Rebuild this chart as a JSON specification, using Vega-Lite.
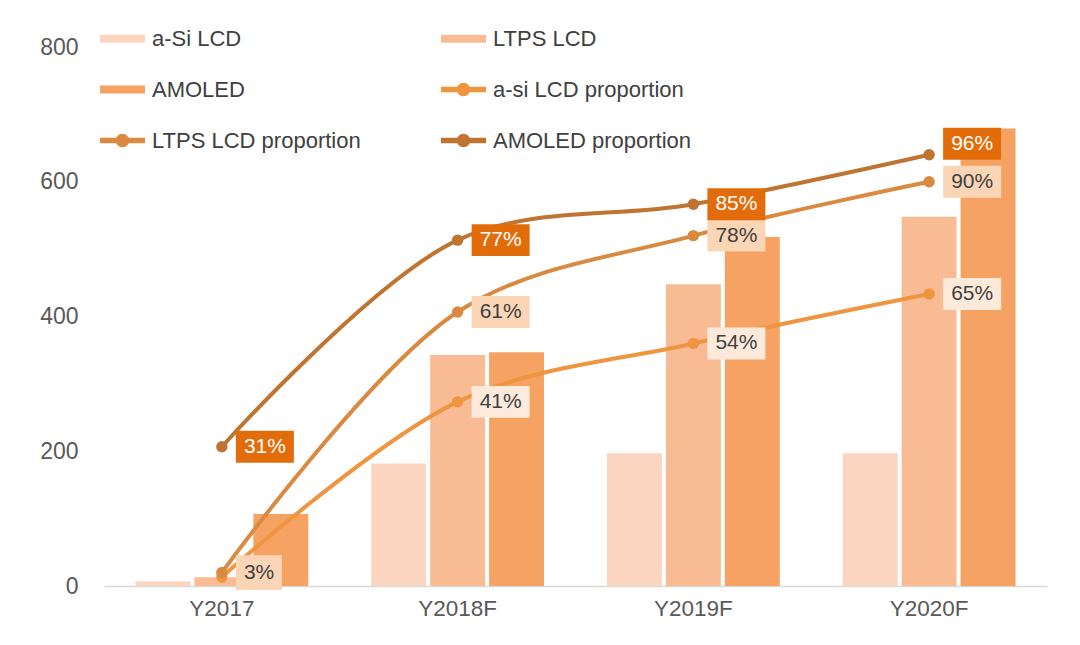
{
  "$schema": "https://vega.github.io/schema/vega-lite/v6.json",
  "width": 943,
  "height": 539,
  "autosize": {"type": "none"},
  "padding": {"left": 104, "top": 47, "right": 33, "bottom": 59},
  "background": "#ffffff",
  "config": {
    "view": {"stroke": null},
    "font": "Liberation Sans",
    "axis": {"labelFont": "Liberation Sans"},
    "legend": {"labelFont": "Liberation Sans"},
    "text": {"font": "Liberation Sans"}
  },
  "datasets": {
    "volume": [
      {"year": "Y2017", "series": "a-Si LCD", "value": 7},
      {"year": "Y2017", "series": "LTPS LCD", "value": 13},
      {"year": "Y2017", "series": "AMOLED", "value": 107},
      {"year": "Y2018F", "series": "a-Si LCD", "value": 182},
      {"year": "Y2018F", "series": "LTPS LCD", "value": 343},
      {"year": "Y2018F", "series": "AMOLED", "value": 347},
      {"year": "Y2019F", "series": "a-Si LCD", "value": 197},
      {"year": "Y2019F", "series": "LTPS LCD", "value": 448},
      {"year": "Y2019F", "series": "AMOLED", "value": 518},
      {"year": "Y2020F", "series": "a-Si LCD", "value": 197},
      {"year": "Y2020F", "series": "LTPS LCD", "value": 548},
      {"year": "Y2020F", "series": "AMOLED", "value": 679}
    ],
    "share": [
      {"year": "Y2017", "series": "a-si LCD proportion", "prop": 0.02},
      {"year": "Y2018F", "series": "a-si LCD proportion", "prop": 0.41},
      {"year": "Y2019F", "series": "a-si LCD proportion", "prop": 0.54},
      {"year": "Y2020F", "series": "a-si LCD proportion", "prop": 0.65},
      {"year": "Y2017", "series": "LTPS LCD proportion", "prop": 0.03},
      {"year": "Y2018F", "series": "LTPS LCD proportion", "prop": 0.61},
      {"year": "Y2019F", "series": "LTPS LCD proportion", "prop": 0.78},
      {"year": "Y2020F", "series": "LTPS LCD proportion", "prop": 0.90},
      {"year": "Y2017", "series": "AMOLED proportion", "prop": 0.31},
      {"year": "Y2018F", "series": "AMOLED proportion", "prop": 0.77},
      {"year": "Y2019F", "series": "AMOLED proportion", "prop": 0.85},
      {"year": "Y2020F", "series": "AMOLED proportion", "prop": 0.96}
    ]
  },
  "layer": [
    {
      "data": {"name": "volume"},
      "mark": {"type": "bar"},
      "encoding": {
        "x": {
          "field": "year", "type": "nominal",
          "sort": ["Y2017", "Y2018F", "Y2019F", "Y2020F"],
          "scale": {"paddingInner": 0, "paddingOuter": 0},
          "axis": {"title": null, "labelAngle": 0, "labelFontSize": 22.5, "labelColor": "#595959", "ticks": false, "domainColor": "#D9D9D9", "domainWidth": 1.5, "labelPadding": 11}
        },
        "xOffset": {
          "field": "series", "type": "nominal",
          "sort": ["a-Si LCD", "LTPS LCD", "AMOLED"],
          "scale": {"paddingInner": 0.068, "paddingOuter": 0.534}
        },
        "y": {
          "field": "value", "type": "quantitative",
          "scale": {"domain": [0, 800], "nice": false},
          "axis": {"title": null, "values": [0, 200, 400, 600, 800], "grid": false, "domain": false, "ticks": false, "labelFontSize": 23, "labelColor": "#595959", "labelPadding": 26}
        },
        "color": {
          "field": "series", "type": "nominal",
          "scale": {
            "domain": ["a-Si LCD", "LTPS LCD", "AMOLED", "a-si LCD proportion", "LTPS LCD proportion", "AMOLED proportion"],
            "range": ["#FBD5BF", "#F9BB94", "#F5A263", "#EF9540", "#DA8A40", "#BF7432"]
          },
          "legend": {
            "title": null,
            "orient": "none",
            "direction": "horizontal",
            "legendX": -4,
            "legendY": -31,
            "columns": 2,
            "columnPadding": 80,
            "rowPadding": 17,
            "padding": 0,
            "symbolSize": 2025,
            "symbolStrokeWidth": 0,
            "symbolType": "M-1,-0.18H1V0.18H-1Z",
            "labelOffset": 7,
            "labelFontSize": 22,
            "labelColor": "#404040",
            "labelLimit": 400,
            "encode": {
              "symbols": {
                "update": {
                  "shape": {"signal": "indexof(['a-Si LCD','LTPS LCD','AMOLED'], datum.value) >= 0 ? 'M-1,-0.18H1V0.18H-1Z' : 'M-1,-0.12H1V0.12H-1Z M0.3,0 A0.3,0.3 0 1 1 -0.3,0 A0.3,0.3 0 1 1 0.3,0 Z'"},
                  "fill": {"scale": "color", "field": "value"},
                  "stroke": {"value": "transparent"},
                  "strokeWidth": {"value": 0},
                  "opacity": {"value": 1}
                }
              }
            }
          }
        }
      }
    },
    {
      "data": {"name": "share"},
      "encoding": {
        "x": {"field": "year", "type": "nominal", "sort": ["Y2017", "Y2018F", "Y2019F", "Y2020F"]},
        "y": {"field": "prop", "type": "quantitative", "scale": {"domain": [0, 1.2], "nice": false}, "axis": null}
      },
      "layer": [
        {
          "mark": {"type": "line", "interpolate": "catmull-rom", "strokeWidth": 4, "point": {"filled": true, "size": 130}},
          "encoding": {"color": {"field": "series", "type": "nominal"}}
        },
        {
          "transform": [{"filter": "!(datum.series == 'a-si LCD proportion' && datum.year == 'Y2017') && !(datum.series == 'AMOLED proportion' && datum.year == 'Y2020F')"}],
          "layer": [
            {
              "mark": {"type": "point", "filled": true, "opacity": 1, "strokeWidth": 0, "size": 3364, "xOffset": 43},
              "encoding": {
                "shape": {"condition": {"test": "datum.prop < 0.1", "value": "M-1,-0.6H0.59V0.6H-1Z"}, "value": "M-1,-0.55H1V0.55H-1Z"},
                "color": {"condition": [{"test": "datum.series == 'AMOLED proportion'", "value": "#E36C0A"}, {"test": "datum.series == 'LTPS LCD proportion'", "value": "#FAD6B6"}], "value": "#FDEADA"}
              }
            },
            {
              "mark": {"type": "text", "xOffset": 22, "fontSize": 21, "baseline": "middle", "align": "left"},
              "encoding": {
                "text": {"field": "prop", "type": "quantitative", "format": ".0%"},
                "color": {"condition": {"test": "datum.series == 'AMOLED proportion'", "value": "#FFFFFF"}, "value": "#404040"}
              }
            }
          ]
        },
        {
          "transform": [{"filter": "datum.series == 'AMOLED proportion' && datum.year == 'Y2020F'"}],
          "layer": [
            {
              "mark": {"type": "point", "filled": true, "opacity": 1, "strokeWidth": 0, "size": 3364, "xOffset": 43, "yOffset": -11, "shape": "M-1,-0.55H1V0.55H-1Z", "color": "#E36C0A"},
              "encoding": {}
            },
            {
              "mark": {"type": "text", "xOffset": 22, "yOffset": -11, "fontSize": 21, "baseline": "middle", "align": "left", "color": "#FFFFFF"},
              "encoding": {"text": {"field": "prop", "type": "quantitative", "format": ".0%"}}
            }
          ]
        }
      ]
    }
  ],
  "resolve": {"scale": {"y": "independent"}}
}
